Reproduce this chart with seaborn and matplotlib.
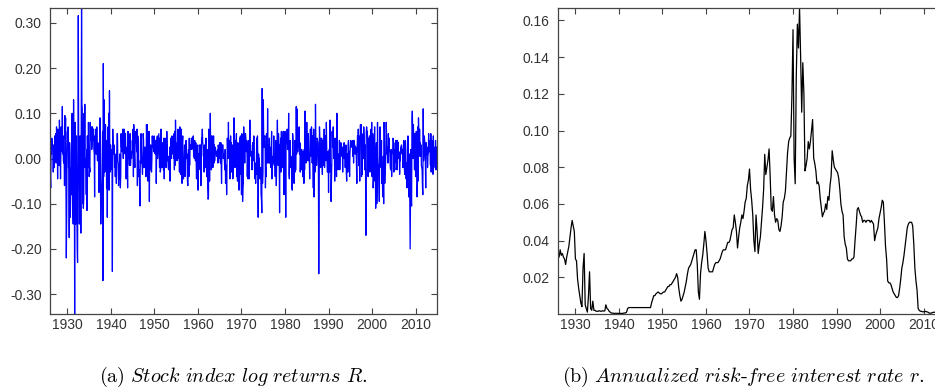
import numpy as np
import matplotlib
matplotlib.use("Agg")
import matplotlib.pyplot as plt
import seaborn as sns

# monthly stock index log returns, Jan 1926 - Dec 2014
log_returns = [
    0.02, -0.04, -0.065, 0.02, 0.01, 0.045, 0.03, 0.025, 0.025, -0.03, 0.03, 0.02,  # 1926
    -0.02, 0.05, 0.01, 0.02, 0.055, -0.01, 0.07, 0.03, 0.045, -0.045, 0.065, 0.025,
    -0.005, -0.015, 0.085, 0.04, 0.01, -0.045, 0.01, 0.07, 0.03, 0.015, 0.115, 0.01,
    0.05, -0.005, -0.01, 0.01, -0.06, 0.095, 0.045, 0.09, -0.05, -0.22, -0.13, 0.02,
    0.06, 0.025, 0.07, -0.02, -0.015, -0.175, 0.035, 0.01, -0.13, -0.085, -0.02, -0.08,  # 1930
    0.06, 0.10, -0.07, -0.105, -0.145, 0.13, -0.07, 0.005, -0.344, 0.08, -0.095, -0.145,
    -0.01, 0.05, -0.12, -0.20, -0.23, -0.005, 0.316, 0.05, -0.03, -0.145, -0.05, 0.05,
    0.01, -0.165, 0.04, 0.34, 0.12, 0.11, -0.10, 0.08, -0.11, -0.09, 0.10, 0.02,
    0.12, -0.02, 0.00, -0.02, -0.08, 0.02, -0.115, 0.05, -0.01, -0.02, 0.08, 0.01,
    -0.04, -0.02, -0.03, 0.08, 0.04, 0.06, 0.07, 0.02, 0.03, 0.07, 0.05, 0.04,
    0.065, 0.02, 0.01, -0.085, 0.05, 0.03, 0.065, 0.01, 0.01, 0.07, 0.015, -0.005,
    0.035, 0.015, -0.01, -0.075, -0.01, -0.045, 0.09, -0.05, -0.145, -0.10, -0.08, -0.045,
    0.01, 0.06, -0.27, 0.21, -0.04, 0.13, 0.07, -0.03, 0.01, 0.075, -0.02, 0.04,
    -0.065, 0.035, -0.13, -0.005, 0.07, -0.06, 0.10, -0.07, 0.15, -0.01, -0.03, 0.03,
    -0.025, 0.01, 0.02, -0.01, -0.25, 0.065, 0.03, 0.025, 0.01, 0.03, -0.02, 0.00,  # 1940
    -0.04, -0.015, 0.01, -0.055, 0.01, 0.055, 0.055, -0.005, -0.01, -0.06, -0.025, -0.045,
    0.01, -0.025, -0.065, -0.04, 0.055, 0.025, 0.03, 0.015, 0.03, 0.065, 0.00, 0.05,
    0.065, 0.06, 0.055, 0.01, 0.055, 0.02, -0.045, 0.01, 0.025, -0.01, -0.065, 0.06,
    0.015, 0.00, 0.02, -0.015, 0.05, 0.055, -0.015, 0.015, 0.00, 0.00, 0.015, 0.04,
    0.02, 0.065, -0.04, 0.075, 0.02, 0.00, -0.02, 0.06, 0.045, 0.035, 0.05, 0.015,
    0.065, -0.06, 0.05, 0.04, 0.04, -0.04, -0.025, -0.065, -0.105, -0.005, -0.01, 0.055,
    0.025, -0.01, -0.015, -0.035, -0.005, 0.055, 0.04, -0.02, -0.005, 0.025, -0.02, 0.025,
    -0.04, -0.04, 0.075, 0.03, 0.075, 0.00, -0.05, 0.01, -0.03, 0.06, -0.095, 0.03,
    0.00, -0.025, 0.03, -0.02, -0.03, 0.00, 0.05, 0.025, 0.03, 0.03, 0.015, 0.05,
    0.015, 0.02, 0.01, 0.04, 0.04, -0.055, 0.01, 0.045, 0.05, 0.00, 0.02, 0.045,  # 1950
    0.055, 0.015, -0.02, 0.045, -0.03, -0.025, 0.065, 0.045, 0.00, -0.02, 0.005, 0.035,
    0.015, -0.025, 0.045, -0.045, 0.03, 0.045, 0.01, -0.01, -0.02, 0.00, 0.06, 0.03,
    -0.005, 0.005, -0.02, -0.025, 0.00, -0.015, 0.025, -0.05, 0.005, 0.045, 0.02, 0.00,
    0.05, 0.01, 0.035, 0.045, 0.035, 0.00, 0.055, -0.025, 0.06, -0.015, 0.085, 0.05,
    0.01, 0.025, -0.005, 0.035, 0.01, 0.065, 0.02, 0.00, 0.01, -0.03, 0.07, 0.01,
    -0.035, 0.04, 0.065, 0.00, -0.055, 0.035, 0.05, -0.03, -0.045, 0.00, 0.00, 0.03,
    -0.04, -0.02, 0.02, 0.04, 0.035, 0.00, 0.01, -0.05, -0.06, -0.03, 0.02, -0.04,
    0.045, -0.015, 0.03, 0.03, 0.02, 0.03, 0.045, 0.02, 0.045, 0.025, 0.03, 0.05,
    0.005, 0.01, 0.00, 0.04, 0.02, -0.005, 0.035, -0.01, -0.045, 0.01, 0.02, 0.03,
    -0.07, 0.01, -0.015, -0.02, 0.03, 0.02, -0.025, 0.03, -0.06, -0.005, 0.045, 0.045,  # 1960
    0.065, 0.035, 0.03, 0.005, 0.025, -0.03, 0.03, 0.025, -0.02, 0.03, 0.045, 0.00,
    -0.04, 0.02, -0.005, -0.065, -0.09, -0.085, 0.065, 0.02, -0.05, 0.00, 0.10, 0.015,
    0.05, -0.025, 0.035, 0.05, 0.02, -0.02, -0.005, 0.05, -0.01, 0.03, -0.005, 0.025,
    0.025, 0.015, 0.015, 0.005, 0.015, 0.015, 0.02, -0.01, 0.03, 0.01, 0.00, 0.005,
    0.035, 0.005, -0.01, 0.035, -0.005, -0.055, 0.015, 0.03, 0.03, 0.03, 0.00, 0.01,
    0.01, -0.01, -0.025, 0.02, -0.055, -0.015, -0.015, -0.08, -0.01, 0.045, 0.01, 0.00,
    0.08, 0.01, 0.04, 0.04, -0.045, 0.02, 0.05, -0.005, 0.035, -0.03, 0.005, 0.03,
    -0.045, -0.03, 0.005, 0.09, 0.02, 0.01, -0.02, 0.015, 0.04, 0.01, 0.055, -0.04,
    -0.01, -0.05, 0.035, 0.02, 0.00, -0.07, -0.065, 0.045, -0.025, 0.05, -0.035, -0.025,
    -0.08, 0.055, 0.00, -0.095, -0.065, -0.055, 0.07, 0.045, 0.04, -0.01, 0.05, 0.055,  # 1970
    0.045, 0.015, 0.04, 0.03, -0.04, 0.00, -0.045, 0.04, -0.005, -0.045, 0.00, 0.085,
    0.025, 0.03, 0.005, 0.005, 0.015, -0.025, 0.00, 0.035, -0.005, 0.01, 0.05, 0.01,
    -0.025, -0.045, -0.01, -0.055, -0.02, -0.01, 0.045, -0.035, 0.05, -0.005, -0.13, 0.01,
    0.00, 0.00, -0.025, -0.045, -0.04, -0.02, -0.08, -0.09, -0.12, 0.155, -0.055, -0.03,
    0.13, 0.06, 0.025, 0.045, 0.05, 0.05, -0.065, -0.02, -0.04, 0.055, 0.03, -0.01,
    0.11, 0.005, 0.03, -0.01, -0.01, 0.045, -0.01, 0.00, 0.025, -0.02, 0.00, 0.06,
    -0.045, -0.015, -0.01, 0.005, -0.01, 0.05, -0.015, -0.015, 0.00, -0.04, 0.04, 0.005,
    -0.06, -0.01, 0.03, 0.085, 0.02, -0.015, 0.055, 0.035, -0.005, -0.12, 0.03, 0.015,
    0.045, -0.03, 0.06, 0.005, -0.02, 0.045, 0.015, 0.06, 0.00, -0.08, 0.055, 0.02,
    0.06, 0.00, -0.13, 0.045, 0.055, 0.035, 0.065, 0.02, 0.03, 0.02, 0.10, -0.035,  # 1980
    -0.045, 0.015, 0.04, -0.02, 0.005, -0.01, -0.005, -0.065, -0.07, 0.055, 0.04, -0.03,
    -0.025, -0.055, -0.01, 0.04, -0.03, -0.025, -0.025, 0.115, 0.01, 0.11, 0.045, 0.015,
    0.035, 0.025, 0.03, 0.07, 0.01, 0.035, -0.03, 0.00, 0.01, -0.025, 0.02, -0.01,
    -0.01, -0.04, 0.015, 0.00, -0.055, 0.02, -0.025, 0.105, 0.00, 0.00, -0.01, 0.02,
    0.08, 0.01, 0.00, -0.005, 0.055, 0.015, -0.005, -0.005, -0.045, 0.04, 0.065, 0.045,
    0.005, 0.07, 0.05, -0.01, 0.05, 0.01, -0.065, 0.065, -0.085, 0.045, 0.015, -0.03,
    0.12, 0.04, 0.02, -0.015, 0.005, 0.045, 0.04, 0.035, -0.02, -0.255, -0.08, 0.07,
    0.04, 0.045, -0.02, 0.01, 0.00, 0.045, -0.005, -0.035, 0.04, 0.015, -0.015, 0.015,
    0.065, -0.02, 0.02, 0.05, 0.04, -0.005, 0.08, 0.02, -0.005, -0.03, 0.015, 0.015,
    -0.075, 0.01, 0.02, -0.03, 0.085, -0.01, -0.015, -0.095, -0.055, -0.01, 0.06, 0.025,  # 1990
    0.045, 0.07, 0.025, 0.00, 0.04, -0.05, 0.045, 0.025, -0.01, 0.015, -0.04, 0.10,
    -0.01, 0.01, -0.025, 0.01, 0.005, -0.02, 0.04, -0.025, 0.01, 0.01, 0.035, 0.015,
    0.01, 0.005, 0.025, -0.03, 0.025, 0.005, 0.00, 0.035, 0.00, 0.015, -0.02, 0.015,
    0.03, -0.03, -0.05, 0.01, 0.01, -0.03, 0.03, 0.04, -0.02, 0.015, -0.04, 0.01,
    0.025, 0.04, 0.025, 0.025, 0.035, 0.03, 0.04, 0.005, 0.04, -0.01, 0.04, 0.015,
    0.03, 0.01, 0.01, 0.025, 0.025, -0.01, -0.055, 0.03, 0.05, 0.015, 0.065, -0.015,
    0.05, 0.00, -0.05, 0.04, 0.075, 0.04, 0.075, -0.04, 0.055, -0.035, 0.035, 0.015,
    0.00, 0.07, 0.05, 0.01, -0.025, 0.03, -0.025, -0.17, 0.06, 0.07, 0.06, 0.06,
    0.035, -0.04, 0.035, 0.045, -0.02, 0.05, -0.03, -0.01, -0.025, 0.065, 0.03, 0.08,
    -0.04, 0.02, 0.055, -0.065, -0.045, 0.045, -0.02, 0.07, -0.05, -0.025, -0.11, 0.015,  # 2000
    0.035, -0.10, -0.065, 0.08, 0.005, -0.02, -0.015, -0.06, -0.095, 0.025, 0.07, 0.01,
    -0.015, -0.02, 0.04, -0.055, -0.01, -0.075, -0.085, 0.005, -0.10, 0.08, 0.06, -0.055,
    -0.025, -0.015, 0.01, 0.08, 0.055, 0.01, 0.02, 0.025, -0.01, 0.055, 0.015, 0.045,
    0.02, 0.015, -0.015, -0.025, 0.015, 0.02, -0.04, 0.005, 0.015, 0.015, 0.045, 0.035,
    -0.03, 0.02, -0.02, -0.025, 0.035, 0.01, 0.04, -0.01, 0.01, -0.025, 0.04, 0.005,
    0.035, 0.00, 0.015, 0.01, -0.035, 0.00, -0.005, 0.025, 0.02, 0.03, 0.02, 0.01,
    0.02, -0.02, 0.01, 0.04, 0.035, -0.02, -0.035, 0.01, 0.04, 0.02, -0.045, -0.01,
    -0.065, -0.025, -0.01, 0.05, 0.02, -0.085, -0.01, 0.01, -0.095, -0.20, -0.085, 0.02,
    -0.085, -0.105, 0.085, 0.105, 0.06, 0.00, 0.075, 0.035, 0.04, -0.025, 0.055, 0.025,
    -0.04, 0.035, 0.06, 0.02, -0.085, -0.055, 0.07, -0.05, 0.09, 0.04, 0.005, 0.065,  # 2010
    0.02, 0.035, 0.005, 0.03, -0.015, -0.02, -0.025, -0.065, -0.08, 0.11, -0.005, 0.01,
    0.05, 0.04, 0.03, -0.01, -0.065, 0.035, 0.01, 0.025, 0.025, -0.02, 0.005, 0.01,
    0.055, 0.015, 0.04, 0.015, 0.025, -0.015, 0.055, -0.03, 0.04, 0.04, 0.03, 0.025,
    -0.035, 0.05, 0.005, 0.00, 0.02, 0.025, -0.02, 0.04, -0.025, 0.025, 0.025, -0.005,
]

# quarterly annualized risk-free rate, 1926 Q1 - 2014 Q4
rf_rate = [
    0.034, 0.031, 0.035, 0.032, 0.033, 0.031, 0.030, 0.027,  # 1926-27
    0.031, 0.034, 0.037, 0.042, 0.047, 0.051, 0.048, 0.045,  # 1928-29
    0.030, 0.029, 0.019, 0.014, 0.010, 0.006, 0.004, 0.025,  # 1930-31
    0.033, 0.005, 0.003, 0.001, 0.010, 0.023, 0.003, 0.002,  # 1932-33
    0.007, 0.002, 0.002, 0.0015, 0.0015, 0.0015, 0.0018, 0.0015,  # 1934-35
    0.0015, 0.0018, 0.0016, 0.0017, 0.005, 0.003, 0.0025, 0.0015,  # 1936-37
    0.001, 0.0005, 0.0005, 0.0004, 0.0003, 0.0004, 0.0003, 0.0004,  # 1938-39
    0.0003, 0.0004, 0.0003, 0.0003, 0.0004, 0.0006, 0.0005, 0.001,  # 1940-41
    0.003, 0.0035, 0.0035, 0.0035, 0.0035, 0.0035, 0.0035, 0.0035,  # 1942-43
    0.0035, 0.0035, 0.0035, 0.0035, 0.0035, 0.0035, 0.0035, 0.0035,  # 1944-45
    0.0035, 0.0035, 0.0035, 0.0035, 0.0035, 0.0035, 0.006, 0.008,  # 1946-47
    0.010, 0.010, 0.011, 0.0115, 0.012, 0.0115, 0.011, 0.011,  # 1948-49
    0.0115, 0.012, 0.012, 0.013, 0.014, 0.015, 0.015, 0.016,  # 1950-51
    0.016, 0.017, 0.018, 0.019, 0.020, 0.022, 0.020, 0.014,  # 1952-53
    0.010, 0.007, 0.008, 0.010, 0.012, 0.015, 0.018, 0.022,  # 1954-55
    0.025, 0.026, 0.027, 0.029, 0.031, 0.033, 0.035, 0.035,  # 1956-57
    0.027, 0.012, 0.008, 0.022, 0.028, 0.032, 0.038, 0.045,  # 1958-59
    0.040, 0.033, 0.025, 0.023, 0.023, 0.023, 0.023, 0.025,  # 1960-61
    0.027, 0.028, 0.028, 0.028, 0.029, 0.030, 0.032, 0.034,  # 1962-63
    0.035, 0.035, 0.035, 0.037, 0.039, 0.039, 0.040, 0.043,  # 1964-65
    0.046, 0.047, 0.054, 0.050, 0.045, 0.036, 0.042, 0.047,  # 1966-67
    0.050, 0.054, 0.052, 0.056, 0.061, 0.063, 0.070, 0.073,  # 1968-69
    0.079, 0.068, 0.062, 0.054, 0.040, 0.034, 0.054, 0.045,  # 1970-71
    0.033, 0.038, 0.042, 0.050, 0.058, 0.068, 0.087, 0.076,  # 1972-73
    0.080, 0.084, 0.090, 0.075, 0.057, 0.056, 0.064, 0.054,  # 1974-75
    0.050, 0.052, 0.051, 0.046, 0.045, 0.048, 0.053, 0.061,  # 1976-77
    0.063, 0.067, 0.078, 0.088, 0.094, 0.096, 0.097, 0.119,  # 1978-79
    0.155, 0.085, 0.071, 0.130, 0.158, 0.145, 0.167, 0.140,  # 1980-81
    0.110, 0.137, 0.120, 0.078, 0.081, 0.085, 0.094, 0.090,  # 1982-83
    0.094, 0.100, 0.106, 0.085, 0.082, 0.078, 0.071, 0.072,  # 1984-85
    0.070, 0.063, 0.058, 0.053, 0.055, 0.056, 0.060, 0.057,  # 1986-87
    0.064, 0.062, 0.070, 0.075, 0.089, 0.084, 0.080, 0.079,  # 1988-89
    0.078, 0.077, 0.074, 0.068, 0.060, 0.056, 0.054, 0.042,  # 1990-91
    0.038, 0.036, 0.030, 0.029, 0.029, 0.029, 0.030, 0.030,  # 1992-93
    0.031, 0.040, 0.048, 0.057, 0.058, 0.056, 0.054, 0.053,  # 1994-95
    0.050, 0.051, 0.051, 0.050, 0.051, 0.051, 0.051, 0.050,  # 1996-97
    0.051, 0.050, 0.049, 0.040, 0.043, 0.045, 0.047, 0.052,  # 1998-99
    0.055, 0.058, 0.062, 0.061, 0.050, 0.037, 0.030, 0.018,  # 2000-01
    0.017, 0.017, 0.016, 0.014, 0.012, 0.011, 0.010, 0.009,  # 2002-03
    0.009, 0.010, 0.014, 0.019, 0.025, 0.028, 0.032, 0.037,  # 2004-05
    0.042, 0.047, 0.049, 0.050, 0.050, 0.050, 0.048, 0.038,  # 2006-07
    0.025, 0.018, 0.013, 0.003, 0.002, 0.0015, 0.0015, 0.0012,  # 2008-09
    0.0012, 0.0013, 0.0014, 0.0012, 0.0010, 0.0005, 0.0005, 0.0004,  # 2010-11
    0.0008, 0.0009, 0.0010, 0.0008, 0.0007, 0.0005, 0.0004, 0.0005,  # 2012-13
    0.0004, 0.0004, 0.0003, 0.0003,  # 2014
]

ret_ticks = [-0.30, -0.20, -0.10, 0.00, 0.10, 0.20, 0.30]
rf_ticks = [0.02, 0.04, 0.06, 0.08, 0.10, 0.12, 0.14, 0.16]
year_ticks = [1930, 1940, 1950, 1960, 1970, 1980, 1990, 2000, 2010]

months = 1926 + np.arange(len(log_returns)) / 12
quarters = 1926 + np.arange(len(rf_rate)) / 4

sns.set_style("ticks")
plt.rcParams["font.family"] = ["Liberation Sans", "DejaVu Sans"]
plt.rcParams["mathtext.fontset"] = "cm"
plt.rcParams["xtick.direction"] = "in"
plt.rcParams["ytick.direction"] = "in"

fig = plt.figure(figsize=(9.35, 3.89), dpi=100)
ax1 = fig.add_axes([50 / 935, 75 / 389, 387 / 935, 306 / 389])
ax2 = fig.add_axes([558 / 935, 75 / 389, 387 / 935, 306 / 389])

sns.lineplot(x=months, y=log_returns, ax=ax1, color="#0000ff", linewidth=0.9,
             estimator=None)
sns.lineplot(x=quarters, y=rf_rate, ax=ax2, color="black", linewidth=0.9,
             estimator=None)

ax1.set_ylim(-0.344, 0.333)
ax1.set_yticks(ret_ticks)
ax2.set_ylim(0.0, 0.1668)
ax2.set_yticks(rf_ticks)

for ax in (ax1, ax2):
    ax.set_xlim(1926.0, 2014.92)
    ax.set_xticks(year_ticks)
    ax.yaxis.set_major_formatter(matplotlib.ticker.FormatStrFormatter("%.2f"))
    ax.tick_params(axis="both", which="both", top=True, right=True, length=4,
                   width=0.8, color="#444444", labelcolor="#333333", labelsize=10)
    ax.tick_params(axis="y", pad=6)
    ax.tick_params(axis="x", pad=3)
    for sp in ax.spines.values():
        sp.set_visible(True)
        sp.set_color("#444444")
        sp.set_linewidth(0.9)

fig.text(233 / 935, 1 - 382 / 389,
         r"$\mathrm{(a)}\ \mathit{Stock\ index\ log\ returns\ R.}$",
         ha="center", va="baseline", fontsize=14.5, color="black")
fig.text(743 / 935, 1 - 382 / 389,
         r"$\mathrm{(b)}\ \mathit{Annualized\ risk\text{-}free\ interest\ rate\ r.}$",
         ha="center", va="baseline", fontsize=14.5, color="black")

fig.savefig("out.png", dpi=100)
